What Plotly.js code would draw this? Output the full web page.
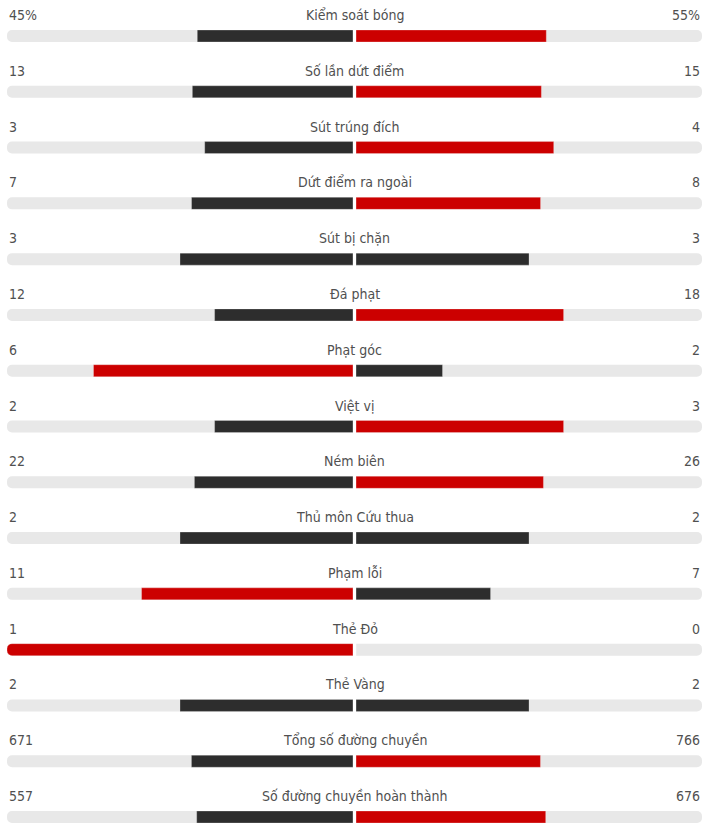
<!DOCTYPE html>
<html>
<head>
<meta charset="utf-8">
<script src="https://cdn.plot.ly/plotly-3.0.1.min.js"></script>
<style>
html,body{margin:0;padding:0;background:#fff;}
#chart{width:710px;height:837px;}
</style>
</head>
<body>
<div id="chart"></div>
<script>
const categories = ["Kiểm soát bóng","Số lần dứt điểm","Sút trúng đích","Dứt điểm ra ngoài","Sút bị chặn","Đá phạt","Phạt góc","Việt vị","Ném biên","Thủ môn Cứu thua","Phạm lỗi","Thẻ Đỏ","Thẻ Vàng","Tổng số đường chuyền","Số đường chuyền hoàn thành"];
const homeValues = [45,13,3,7,3,12,6,2,22,2,11,1,2,671,557];
const awayValues = [55,15,4,8,3,18,2,3,26,2,7,0,2,766,676];
const valueSuffix = ["%","","","","","","","","","","","","","",""];

const RED = "#cc0000", DARK = "#2d2d2d", TRACK = "#e8e8e8", TXT = "#505050";
const FONT = "DejaVu Sans Condensed, DejaVu Sans, Verdana, sans-serif";

const idx = categories.map((c,i)=>i);
const homeShare = homeValues.map((v,i)=>{const t=v+awayValues[i];return t? v/t:0;});
const awayShare = awayValues.map((v,i)=>{const t=homeValues[i]+v;return t? v/t:0;});
const homeColor = homeValues.map((v,i)=> v>awayValues[i]?RED:DARK);
const awayColor = awayValues.map((v,i)=> v>homeValues[i]?RED:DARK);

const W = 0.215;
const common = {type:"bar",orientation:"h",y:idx,width:W,hoverinfo:"skip",showlegend:false};
const traces = [
  Object.assign({},common,{x:idx.map(()=>-1),xaxis:"x",yaxis:"y",marker:{color:TRACK,cornerradius:5}}),
  Object.assign({},common,{x:idx.map(()=>1),xaxis:"x2",yaxis:"y",marker:{color:TRACK,cornerradius:5}}),
  Object.assign({},common,{x:homeShare.map(s=>-s),xaxis:"x",yaxis:"y",marker:{color:homeColor,cornerradius:5,line:{color:"rgba(255,255,255,0.35)",width:0.8}}}),
  Object.assign({},common,{x:awayShare,xaxis:"x2",yaxis:"y",marker:{color:awayColor,cornerradius:5,line:{color:"rgba(255,255,255,0.35)",width:0.8}}})
];

const annotations = [];
categories.forEach((c,i)=>{
  annotations.push({xref:"paper",yref:"y",x:0.5,y:i,yshift:21,text:c,showarrow:false,xanchor:"center",yanchor:"middle",font:{family:FONT,size:14,color:TXT}});
  annotations.push({xref:"paper",yref:"y",x:0,y:i,yshift:21,text:homeValues[i]+valueSuffix[i],showarrow:false,xanchor:"left",yanchor:"middle",font:{family:FONT,size:14,color:TXT}});
  annotations.push({xref:"paper",yref:"y",x:1,y:i,yshift:21,text:awayValues[i]+valueSuffix[i],showarrow:false,xanchor:"right",yanchor:"middle",font:{family:FONT,size:14,color:TXT}});
});

const layout = {
  width:710,height:837,
  margin:{l:7,r:8,t:0,b:0},
  paper_bgcolor:"#fff",plot_bgcolor:"#fff",
  barmode:"overlay",
  barcornerradius:5,
  xaxis:{domain:[0,0.4978],range:[-1,0],visible:false,fixedrange:true},
  xaxis2:{domain:[0.5022,1],range:[0,1],visible:false,fixedrange:true,anchor:"y"},
  yaxis:{type:"linear",range:[14.358,-0.645],visible:false,fixedrange:true},
  annotations:annotations,
  font:{family:FONT}
};
Plotly.newPlot("chart",traces,layout,{displayModeBar:false,staticPlot:true});
</script>
</body>
</html>
